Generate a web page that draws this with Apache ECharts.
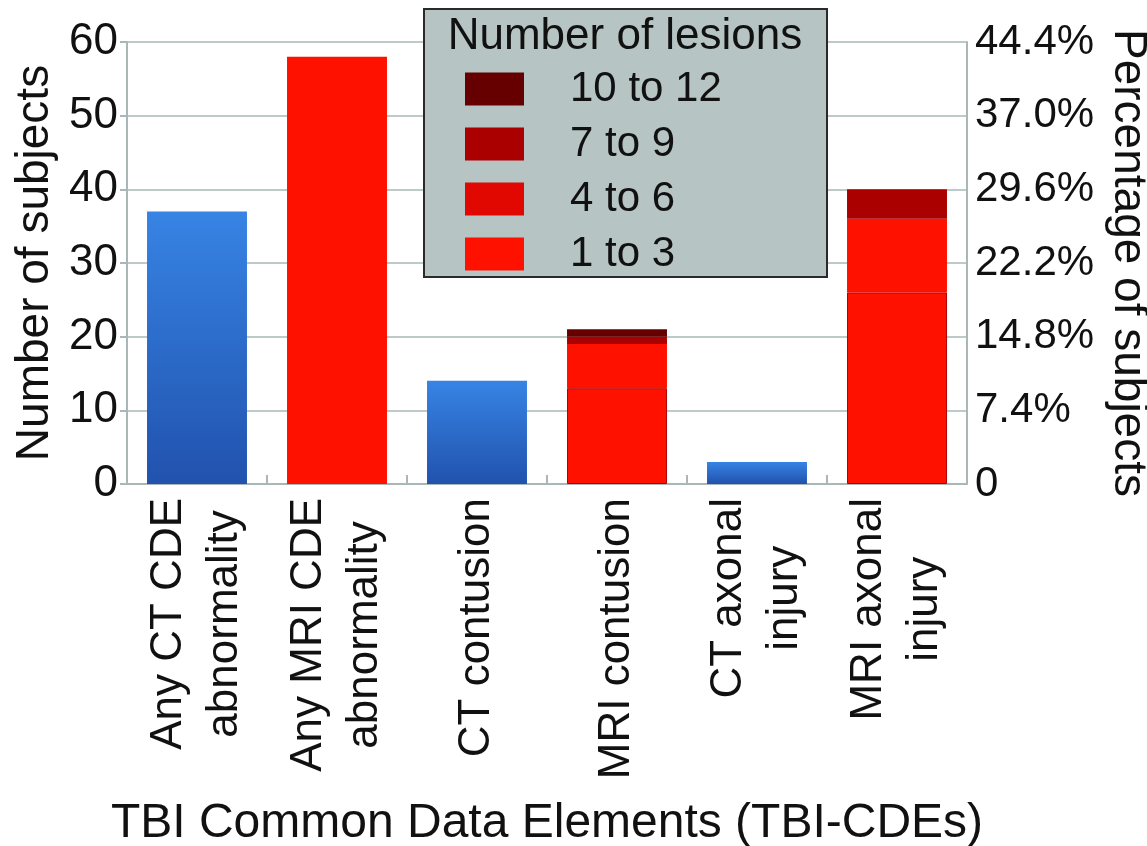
<!DOCTYPE html>
<html>
<head>
<meta charset="utf-8">
<script src="https://cdn.jsdelivr.net/npm/echarts@6/dist/echarts.min.js"></script>
<style>
html,body{margin:0;padding:0;background:#fff;}
#chart{width:1147px;height:846px;}
</style>
</head>
<body>
<div id="chart"></div>
<script>
var categories = ['Any CT CDE\nabnormality', 'Any MRI CDE\nabnormality', 'CT contusion', 'MRI contusion', 'CT axonal\ninjury', 'MRI axonal\ninjury'];
var ctSubjects = [37, '-', 14, '-', 3, '-'];
var anyMriSubjects = ['-', 58, '-', '-', '-', '-'];
var lesions1to3 = ['-', '-', '-', 13, '-', 26];
var lesions4to6 = ['-', '-', '-', 6, '-', 10];
var lesions7to9 = ['-', '-', '-', 1, '-', 4];
var lesions10to12 = ['-', '-', '-', 1, '-', 0];
var legendNames = ['10 to 12', '7 to 9', '4 to 6', '1 to 3'];
var legendColors = ['#660000', '#aa0000', '#e00800', '#ff1100'];
var totalSubjects = 135;

var FONT = 'Liberation Sans, Arial, Helvetica, sans-serif';
var chart = echarts.init(document.getElementById('chart'), null, {renderer: 'canvas'});

var blueGrad = new echarts.graphic.LinearGradient(0, 0, 0, 1, [
  {offset: 0, color: '#3784e4'},
  {offset: 1, color: '#2152ae'}
]);

var option = {
  backgroundColor: '#ffffff',
  animation: false,
  grid: {left: 127, right: 180, top: 42, bottom: 362, outerBoundsMode: 'none', containLabel: false},
  legend: {
    data: legendNames.map(function (n, i) { return {name: n, itemStyle: {color: legendColors[i], borderWidth: 0}}; }),
    orient: 'vertical',
    left: 460,
    top: 63,
    itemWidth: 59,
    itemHeight: 33,
    itemGap: 13,
    icon: 'rect',
    z: 10,
    textStyle: {fontFamily: FONT, fontSize: 42, color: '#111', padding: [0, 0, 0, 41]},
    selectedMode: false
  },
  graphic: [
    {type: 'rect', z: 3, shape: {x: 424, y: 9, width: 403, height: 268},
     style: {fill: '#b6c5c4', stroke: '#2a2a2a', lineWidth: 2}},
    {type: 'text', z: 4, x: 625, y: 37,
     style: {text: 'Number of lesions', fontFamily: FONT, fontSize: 44, fill: '#111',
             textAlign: 'center', textVerticalAlign: 'middle'}}
  ],
  xAxis: {
    type: 'category',
    data: categories,
    name: 'TBI Common Data Elements (TBI-CDEs)',
    nameLocation: 'middle',
    nameGap: 316,
    nameTextStyle: {fontFamily: FONT, fontSize: 48, color: '#111'},
    axisLine: {lineStyle: {color: '#a9b8b6', width: 2}},
    axisTick: {show: true, inside: true, length: 9, lineStyle: {color: '#a9b8b6', width: 2}},
    axisLabel: {
      rotate: 90, margin: 14, interval: 0,
      formatter: function (v) {
        return v.split('\n').map(function (l) { return '{c|' + l + '}'; }).join('\n');
      },
      rich: {c: {align: 'center', fontFamily: FONT, fontSize: 44, color: '#111', lineHeight: 56}}
    }
  },
  yAxis: [
    {
      type: 'value', min: 0, max: 60, interval: 10,
      name: 'Number of subjects',
      nameLocation: 'middle', nameRotate: 90, nameGap: 65,
      nameTextStyle: {fontFamily: FONT, fontSize: 46, color: '#111'},
      axisLine: {show: true, lineStyle: {color: '#a9b8b6', width: 2}},
      axisTick: {show: true, length: 7, lineStyle: {color: '#a9b8b6', width: 2}},
      axisLabel: {fontFamily: FONT, fontSize: 44, color: '#111', margin: 9},
      splitLine: {lineStyle: {color: '#bccac8', width: 2}}
    },
    {
      type: 'value', min: 0, max: 60, interval: 10, position: 'right',
      name: 'Percentage of subjects',
      nameLocation: 'middle', nameRotate: -90, nameGap: 130,
      nameTextStyle: {fontFamily: FONT, fontSize: 46, color: '#111'},
      axisLine: {show: true, lineStyle: {color: '#a9b8b6', width: 2}},
      axisTick: {show: false},
      axisLabel: {fontFamily: FONT, fontSize: 42, color: '#111', margin: 8,
        formatter: function (v) { return v === 0 ? '0' : (v / totalSubjects * 100).toFixed(1) + '%'; }},
      splitLine: {show: false}
    }
  ],
  series: [
    {name: 'CT', type: 'bar', stack: 'all', data: ctSubjects, barCategoryGap: '28.6%',
     itemStyle: {color: blueGrad}},
    {name: 'Any MRI', type: 'bar', stack: 'all', data: anyMriSubjects,
     itemStyle: {color: '#ff1100'}},
    {name: '1 to 3', type: 'bar', stack: 'all', data: lesions1to3,
     itemStyle: {color: '#ff1100', borderColor: '#b00000', borderWidth: 1}},
    {name: '4 to 6', type: 'bar', stack: 'all', data: lesions4to6,
     itemStyle: {color: '#ff1100'}},
    {name: '7 to 9', type: 'bar', stack: 'all', data: lesions7to9,
     itemStyle: {color: '#aa0000'}},
    {name: '10 to 12', type: 'bar', stack: 'all', data: lesions10to12,
     itemStyle: {color: '#660000'}}
  ]
};
chart.setOption(option);
</script>
</body>
</html>
